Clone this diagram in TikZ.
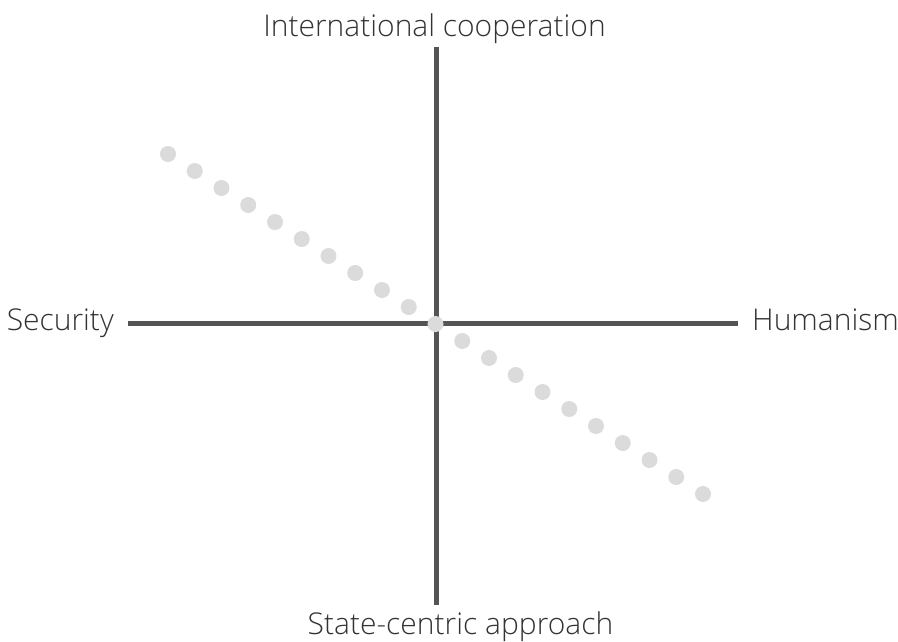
\documentclass[tikz,border=0pt]{standalone}
\usepackage{fontspec}
\setmainfont{Open Sans}[UprightFont={* Light}]
\usetikzlibrary{calc}
\colorlet{axisgray}{black!67}
\colorlet{dotgray}{black!14}
\colorlet{labelgray}{black!80}
\tikzset{
  axis/.style={axisgray, line width=5pt},
  axislabel/.style={text=labelgray, font=\fontsize{30}{35}\selectfont, inner sep=0pt},
  spot/.style={circle, fill=dotgray, inner sep=0pt, minimum size=16pt}
}

\begin{document}
\begin{tikzpicture}[x=1pt, y=-1pt]
                \useasboundingbox (0,0) rectangle (898,641);

                % Axis ends
                \coordinate (N) at (436,47);
                \coordinate (S) at (436,605);
                \coordinate (W) at (128,323);
                \coordinate (E) at (738,323);

                % Labels
                \node[axislabel, anchor=base] (coop) at (434.5,36) {International cooperation};
                \node[axislabel, anchor=base] (state) at (460.5,634) {State-centric approach};
                \node[axislabel, anchor=base east] (sec) at (114,330) {Security};
                \node[axislabel, anchor=base west] (hum) at (752,330) {Humanism};

                % Draw axes
                \draw[axis] (N) -- (S);
                \draw[axis] (W) -- (E);

                % Dotted trend line
                \foreach \i in {0,...,20}
                  \node[spot] (dot\i) at ($(168,154)!\i/20!(703,494)$) {};
            \end{tikzpicture}
\end{document}
